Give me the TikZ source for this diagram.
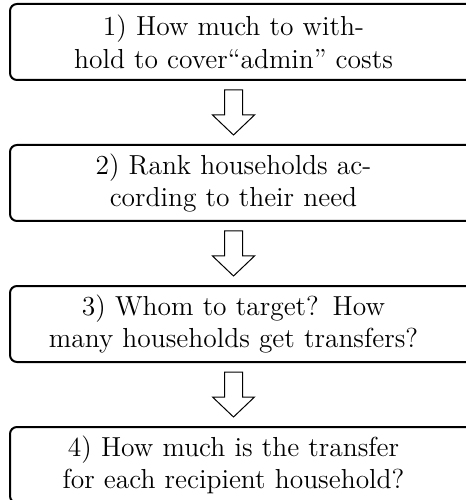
\documentclass[tikz,border=0pt]{standalone}
\usepackage{tikz}
\usetikzlibrary{positioning,calc}

\tikzset{
  qtext/.style={inner xsep=0pt, inner ysep=0pt, text width=178.4pt, align=center, minimum height=30pt,
    font=\fontsize{11}{13}\selectfont},
  qframe/.style={draw, thick, rounded corners=2.8pt},
  hollow/.style={draw, fill=white, line join=miter},
}

\begin{document}
\begin{tikzpicture}
    \clip (0,0) rectangle (186.4pt,-200pt);
    % Questions
    \node[qtext, anchor=north west] (q1) at (4pt,-1.6pt) {1) How much to with-\\hold to cover``admin'' costs};
    \node[qtext, below=26pt of q1] (q2) {2) Rank households ac-\\cording to their need};
    \node[qtext, below=26pt of q2] (q3) {3) Whom to target? How\\many households get transfers?};
    \node[qtext, below=26pt of q3] (q4) {4) How much is the transfer\\for each recipient household?};
    \foreach \n in {q1,q2,q3,q4}
        \draw[qframe] (\n.north west) rectangle ($(\n.south east)+(20pt,0)$);

    % Arrows
    \foreach \a/\b in {q1/q2,q2/q3,q3/q4} {
        \coordinate (m) at ($(\a.south)!0.5!(\b.north)$);
        \draw[hollow] (m) ++(-3.6pt,9pt) -- ++(7.2pt,0) -- ++(0,-10pt) -- ++(4.8pt,0)
            -- ++(-8.4pt,-8pt) -- ++(-8.4pt,8pt) -- ++(4.8pt,0) -- cycle;
    }
\end{tikzpicture}
\end{document}
